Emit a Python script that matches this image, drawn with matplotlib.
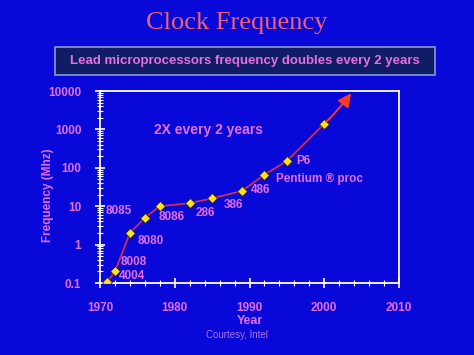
import matplotlib.pyplot as plt
import matplotlib.patches as mpatches
from matplotlib.ticker import LogLocator, MultipleLocator, FixedFormatter, FixedLocator
import numpy as np

# Intel processors: year, clock (MHz)
years = [1971, 1972, 1974, 1976, 1978, 1982, 1985, 1989, 1992, 1995, 2000]
freqs = [0.108, 0.2, 2, 5, 10, 12, 16, 25, 66, 150, 1400]
arrow_end = (2003.8, 10000)

labels = ['4004', '8008', '8080', '8085', '8086', '286', '386', '486',
          'Pentium \u00ae proc', 'P6']
label_pos = [(1972.5, 0.155), (1972.7, 0.36), (1975.0, 1.22), (1970.8, 7.6),
             (1977.9, 5.3), (1982.8, 6.6), (1986.6, 10.5), (1990.2, 26),
             (1993.6, 51), (1996.2, 153)]

bg = '#0808d8'
pink = '#e46ee6'

plt.rcParams['font.family'] = ['Liberation Sans', 'DejaVu Sans']
fig = plt.figure(figsize=[4.74, 3.55], dpi=100, facecolor=bg)
ax = fig.add_axes([100/474, 1-283/355, 299/474, 192/355], facecolor=bg)

ax.plot(years, freqs, color='#d83048', lw=1.2, zorder=2)
ax.plot(years, freqs, ls='none', marker='D', ms=5.5, mfc='#ffe020',
        mec='#202020', mew=0.6, zorder=3)
ax.annotate('', xy=arrow_end, xytext=(years[-1], freqs[-1]),
            arrowprops=dict(arrowstyle='-|>,head_length=0.8,head_width=0.4',
                            color='#ff3a20', lw=1.3, connectionstyle='arc3,rad=0.05'))

for t, (x, y) in zip(labels, label_pos):
    ax.text(x, y, t, color=pink, fontsize=8.5, fontweight='bold', va='center')
ax.text(1977.2, 955, '2X every 2 years', color=pink, fontsize=10,
        fontweight='bold', va='center')

ax.set_yscale('log')
ax.set_xlim(1970, 2010)
ax.set_ylim(0.1, 10000)
ax.xaxis.set_major_locator(MultipleLocator(10))
ax.xaxis.set_minor_locator(MultipleLocator(2))
ax.yaxis.set_major_locator(FixedLocator([0.1, 1, 10, 100, 1000, 10000]))
ax.yaxis.set_major_formatter(FixedFormatter(['0.1', '1', '10', '100', '1000', '10000']))
ax.yaxis.set_minor_locator(LogLocator(base=10, subs=np.arange(2, 10)))
ax.tick_params(which='both', colors='white', direction='inout', labelcolor=pink,
               labelsize=8.5)
ax.tick_params(which='major', length=7, width=1.2)
ax.tick_params(which='minor', length=4, width=0.8)
ax.tick_params(axis='x', which='major', pad=10)
ax.tick_params(axis='y', which='major', pad=10)
for lab in ax.get_xticklabels() + ax.get_yticklabels():
    lab.set_fontweight('bold')
for s in ax.spines.values():
    s.set_color('white')
    s.set_linewidth(1.3)

ax.set_xlabel('Year', color=pink, fontsize=9, fontweight='bold', labelpad=1)
ax.set_ylabel('Frequency (Mhz)', color=pink, fontsize=8.5, fontweight='bold')
ax.yaxis.set_label_coords(-0.154, 0.458)

fig.text(0.5, 1-334.5/355, 'Courtesy, Intel', color='#b070f0', fontsize=7,
         ha='center', va='center')
fig.text(0.5, 1-23/355, 'Clock Frequency', color='#f06070', fontsize=19,
         family='Liberation Serif', ha='center', va='center')
box = mpatches.Rectangle((55/474, 1-75/355), 380/474, 28/355, transform=fig.transFigure,
                         facecolor='#101c66', edgecolor='#8a9ad0', lw=1.2)
fig.patches.append(box)
fig.text(245/474, 1-61/355, 'Lead microprocessors frequency doubles every 2 years',
         color=pink, fontsize=9.5, fontweight='bold', ha='center', va='center')

fig.savefig('out.png', dpi=100, facecolor=bg)
